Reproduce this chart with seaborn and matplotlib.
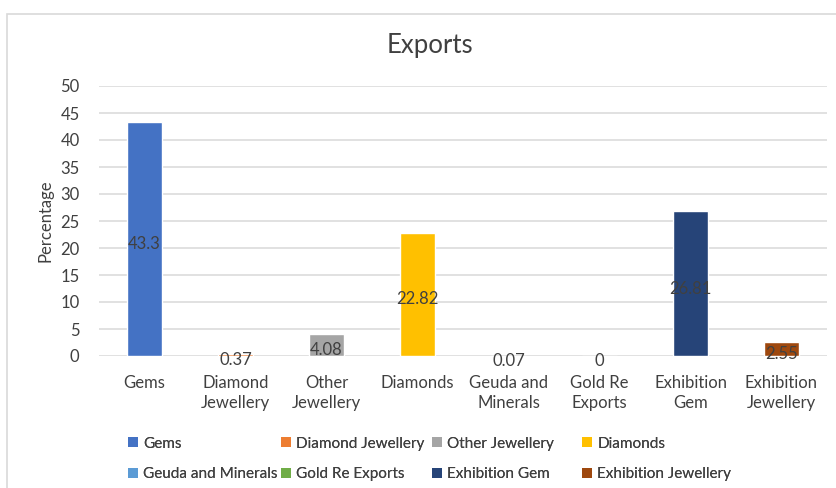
import matplotlib
matplotlib.use("Agg")
import matplotlib.pyplot as plt
from matplotlib.patches import Rectangle, Patch
import matplotlib.transforms as mtransforms
import seaborn as sns
import pandas as pd

categories = ["Gems", "Diamond Jewellery", "Other Jewellery", "Diamonds",
              "Geuda and Minerals", "Gold Re Exports", "Exhibition Gem",
              "Exhibition Jewellery"]
tick_labels = ["Gems", "Diamond\nJewellery", "Other\nJewellery", "Diamonds",
               "Geuda and\nMinerals", "Gold Re\nExports", "Exhibition\nGem",
               "Exhibition\nJewellery"]
values = [43.3, 0.37, 4.08, 22.82, 0.07, 0.0, 26.81, 2.55]
value_labels = ["43.3", "0.37", "4.08", "22.82", "0.07", "0", "26.81", "2.55"]
colors = ["#4472C4", "#ED7D31", "#A5A5A5", "#FFC000",
          "#5B9BD5", "#70AD47", "#264478", "#9E480E"]

sns.set_theme(style="white")
plt.rcParams["font.family"] = ["Lato", "DejaVu Sans"]
text_color = "#404040"

df = pd.DataFrame({"category": categories, "value": values})

fig = plt.figure(figsize=(8.36, 4.88), dpi=100)
fig.patch.set_facecolor("white")
# chart frame
fig.add_artist(Rectangle((7 / 836, -0.2), 2.0, 1.2 - 14 / 488,
                         transform=fig.transFigure, fill=False,
                         edgecolor="#D9D9D9", linewidth=1.2))

ax = fig.add_axes([99 / 836, 1 - 356 / 488, (827 - 99) / 836, (356 - 86) / 488])
sns.barplot(data=df, x="category", y="value", hue="category",
            palette=colors, width=0.38, legend=False, ax=ax, zorder=3,
            saturation=1)

ax.set_ylim(0, 50)
ax.set_yticks(range(0, 51, 5))
ax.set_xlim(-0.5, len(categories) - 0.5)
ax.yaxis.grid(True, color="#D9D9D9", linewidth=1.1, zorder=0)
ax.set_axisbelow(True)
for s in ax.spines.values():
    s.set_visible(False)
ax.set_xticks(range(len(categories)))
ax.set_xticklabels(tick_labels, fontsize=12, color=text_color, linespacing=1.3)
ax.tick_params(axis="y", labelsize=12, labelcolor=text_color, length=0, pad=14)
ax.tick_params(axis="x", length=0, pad=14)
ax.set_xlabel("")
ax.set_ylabel("Percentage", fontsize=12, color=text_color, labelpad=5)

# data labels centred in each bar
label_offset = mtransforms.ScaledTranslation(0, -5 / 100, fig.dpi_scale_trans)
for i, (v, lab) in enumerate(zip(values, value_labels)):
    ax.text(i, v / 2, lab, ha="center", va="center", fontsize=12,
            color=text_color, zorder=4,
            transform=ax.transData + label_offset)

fig.text(430 / 836, 1 - 46 / 488, "Exports", ha="center", va="center",
         fontsize=18.5, color=text_color)

# legend: two rows, four equally spaced columns
handles = [Patch(facecolor=c, edgecolor="none") for c in colors]
col_x = [128, 281, 432, 582]
for col, x in enumerate(col_x):
    idx = [col, col + 4]
    leg = fig.legend([handles[k] for k in idx], [categories[k] for k in idx],
                     loc="center left", bbox_to_anchor=(x / 836, 1 - 459 / 488),
                     frameon=False, fontsize=11, handlelength=0.65,
                     handleheight=0.65, handletextpad=0.35, labelspacing=1.08,
                     borderpad=0, borderaxespad=0, labelcolor=text_color)
    fig.add_artist(leg)

fig.savefig("out.png", dpi=100, facecolor="white")
